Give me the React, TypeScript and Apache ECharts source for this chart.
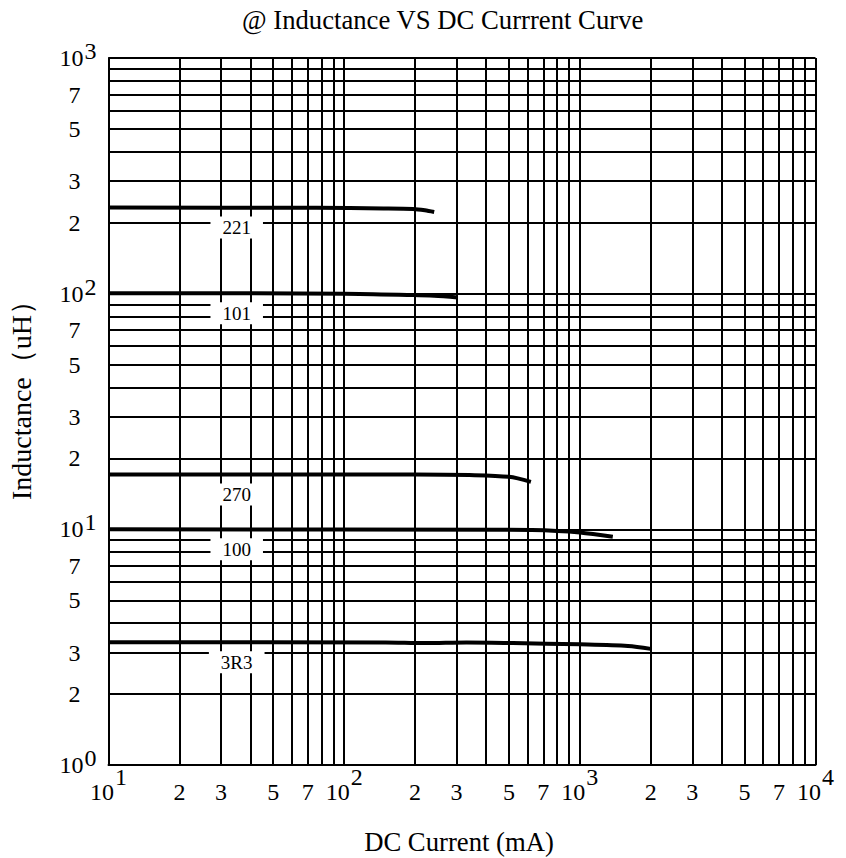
import React, { useEffect, useRef } from 'react';
import * as echarts from 'echarts';

// ---------- text ----------
const TITLE = '@ Inductance VS DC Currrent Curve';
const X_NAME = 'DC Current (mA)';
const Y_NAME = 'Inductance（uH）';

// ---------- axes ----------
const X_MIN = 10;
const X_MAX = 10000;
const Y_MIN = 1;
const Y_MAX = 1000;
const X_DECADES = [10, 100, 1000];
const Y_DECADES = [1, 10, 100];
const MANTISSAS = [2, 3, 4, 5, 6, 7, 8, 9];
const LABELED_MANTISSAS = [2, 3, 5, 7];

// ---------- series (x: mA, y: uH) ----------
const SERIES_NAMES = ['221', '101', '270', '100', '3R3'];
const CURVE_221 = [[10, 232], [76, 231.4], [147, 230], [196, 228.7], [220, 225.8], [241, 222]];
const CURVE_101 = [[10, 100.5], [100, 100], [196, 98.6], [241, 97.9], [303, 96.4]];
const CURVE_270 = [[10, 17.1], [200, 17.1], [340, 17.0], [500, 16.7], [620, 15.9]];
const CURVE_100 = [[10, 10], [500, 9.95], [800, 9.85], [1000, 9.7], [1380, 9.3]];
const CURVE_3R3 = [[10, 3.32], [150, 3.31], [220, 3.29], [330, 3.31], [520, 3.29], [1000, 3.25], [1600, 3.2], [2000, 3.11]];
const CURVES = [CURVE_221, CURVE_101, CURVE_270, CURVE_100, CURVE_3R3];

// x value (mA) where the part-number tags sit
const LABEL_X = 35;

const FONT = '"Liberation Serif", "Times New Roman", serif';
const BLACK = '#000';

function buildOption() {
  const gridLine = { color: BLACK, width: 2, type: 'solid' as const };

  const markData: any[] = [];
  X_DECADES.forEach((d) => {
    MANTISSAS.forEach((m) => {
      const labeled = LABELED_MANTISSAS.includes(m);
      markData.push({
        xAxis: m * d,
        label: labeled
          ? { show: true, formatter: `{xd|${m}}`, position: 'start', distance: 0 }
          : { show: false },
      });
    });
  });
  Y_DECADES.forEach((d) => {
    MANTISSAS.forEach((m) => {
      const labeled = LABELED_MANTISSAS.includes(m);
      markData.push({
        yAxis: m * d,
        label: labeled
          ? { show: true, formatter: `{yd|${m}}`, position: 'start', distance: 12 }
          : { show: false },
      });
    });
  });

  const digit = { fontSize: 24, fontFamily: FONT, color: BLACK };

  const curveSeries = CURVES.map((data, i) => ({
    name: SERIES_NAMES[i],
    type: 'line',
    data,
    smooth: 0.3,
    symbol: 'none',
    silent: true,
    z: 3,
    lineStyle: { color: BLACK, width: 4 },
    ...(i === 0
      ? {
          markLine: {
            silent: true,
            symbol: ['none', 'none'],
            z: 1,
            animation: false,
            lineStyle: gridLine,
            emphasis: { disabled: true },
            label: {
              show: false,
              color: BLACK,
              fontFamily: FONT,
              rich: {
                xd: { ...digit, lineHeight: 54 },
                yd: { ...digit, lineHeight: 24, padding: [0, 16, 0, 0] },
              },
            },
            data: markData,
          },
        }
      : {}),
  }));

  const tagData = CURVES.map((c, i) => [LABEL_X, c[0][1], SERIES_NAMES[i]]);

  return {
    animation: false,
    backgroundColor: '#fff',
    title: {
      text: TITLE,
      left: 242,
      top: 6,
      padding: 0,
      textStyle: { fontSize: 26.7, fontWeight: 'normal', fontFamily: FONT, color: BLACK },
    },
    grid: { left: 108.5, top: 58, width: 707, height: 707, containLabel: false, outerBoundsMode: 'none' },
    xAxis: {
      type: 'log',
      logBase: 10,
      min: X_MIN,
      max: X_MAX,
      name: X_NAME,
      nameLocation: 'middle',
      nameGap: 63,
      nameTextStyle: { fontSize: 26.7, fontFamily: FONT, color: BLACK, padding: [0, 6, 0, 0] },
      axisLine: { show: true, lineStyle: { color: BLACK, width: 2 } },
      axisTick: { show: false },
      minorTick: { show: false },
      splitLine: { show: true, lineStyle: gridLine },
      axisLabel: {
        margin: 0,
        color: BLACK,
        formatter: (v: number) => `{b|10}{s|${Math.round(Math.log10(v))}}`,
        rich: {
          b: { ...digit, lineHeight: 54 },
          s: { ...digit, verticalAlign: 'top', padding: [0, 0, 0, 1] },
        },
      },
    },
    yAxis: {
      type: 'log',
      logBase: 10,
      min: Y_MIN,
      max: Y_MAX,
      name: Y_NAME,
      nameLocation: 'middle',
      nameGap: 73,
      nameTextStyle: { fontSize: 28, fontFamily: FONT, color: BLACK, padding: [0, 0, 0, 36] },
      axisLine: { show: true, lineStyle: { color: BLACK, width: 2 } },
      axisTick: { show: false },
      minorTick: { show: false },
      splitLine: { show: true, lineStyle: gridLine },
      axisLabel: {
        margin: 12,
        color: BLACK,
        formatter: (v: number) => `{b|10}{s|${Math.round(Math.log10(v))}}`,
        rich: {
          b: { ...digit, lineHeight: 38 },
          s: { ...digit, verticalAlign: 'top', padding: [0, 0, 0, 1] },
        },
      },
    },
    series: [
      ...curveSeries,
      {
        name: 'tags',
        type: 'scatter',
        data: tagData,
        symbolSize: 0,
        silent: true,
        z: 10,
        itemStyle: { color: BLACK, opacity: 1 },
        emphasis: { disabled: true },
        label: {
          show: true,
          position: 'inside',
          offset: [0, 20],
          formatter: (p: any) => p.value[2],
          fontSize: 19,
          lineHeight: 18,
          fontFamily: FONT,
          color: BLACK,
          opacity: 1,
          textBorderWidth: 0,
          textBorderColor: 'transparent',
          textShadowBlur: 0,
          backgroundColor: '#fff',
          padding: [2, 12],
        },
      },
    ],
  };
}

export default function App() {
  const ref = useRef<HTMLDivElement>(null);
  useEffect(() => {
    if (!ref.current) return;
    const chart = echarts.init(ref.current, null, { renderer: 'svg' });
    chart.setOption(buildOption() as any);
    return () => chart.dispose();
  }, []);
  return (
    <div
      ref={ref}
      style={{ position: 'fixed', left: 0, top: 0, width: 846, height: 858, background: '#fff' }}
    />
  );
}
